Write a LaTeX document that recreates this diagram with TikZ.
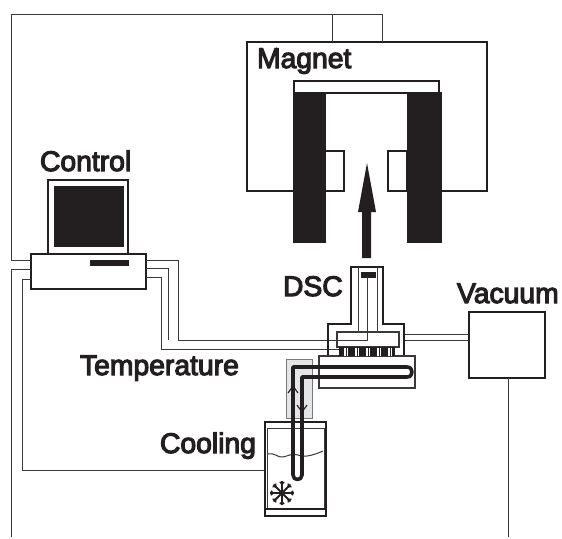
\documentclass[tikz,border=0pt]{standalone}
\usepackage{fontspec}
\usetikzlibrary{calc}
\newfontfamily\labfont{Liberation Sans}[FakeBold=4]
\definecolor{ink}{HTML}{231F20}
\definecolor{wire}{HTML}{3A3839}
\definecolor{shade}{HTML}{E4E5E7}
\definecolor{shadeedge}{HTML}{77787B}
\tikzset{
  box/.style={draw=ink,line width=2.4pt,fill=white,rectangle,inner sep=0,outer sep=0},
  solid box/.style={draw=ink,fill=ink,rectangle,inner sep=0,outer sep=0,line width=0pt},
  thin box/.style={draw=wire,line width=1.2pt,fill=white,rectangle,inner sep=0,outer sep=0},
  connector/.style={draw=wire,line width=1pt},
  heavy/.style={draw=ink,line width=2.4pt,line join=miter},
  tube/.style={draw=ink,line width=3.6pt},
  lab/.style={font=\labfont\fontsize{28.3}{30}\selectfont,text=ink,anchor=base west,inner sep=0,outer sep=0},
}
\begin{document}
\begin{tikzpicture}[x=1pt,y=-1pt]
\useasboundingbox (0,0) rectangle (562,538);
\fill[white] (0,0) rectangle (562,538);

% magnet
\draw[heavy] (294,191) -- (247,191) -- (247,42) -- (487,42) -- (487,191) -- (441,191);
\node[thin box,draw=ink,line width=1.6pt,minimum width=145pt,minimum height=12pt] (bar) at (366.5,87) {};
\node[box,line width=1.6pt,minimum width=19pt,minimum height=40pt] (poleL) at (334.5,171) {};
\node[box,line width=1.6pt,minimum width=19pt,minimum height=40pt] (poleR) at (397.5,171) {};
\node[solid box,minimum width=32pt,minimum height=150pt] (coilL) at (309,167) {};
\node[solid box,minimum width=34pt,minimum height=150pt] (coilR) at (424,167) {};
\coordinate (tip) at (367,163);
\fill[ink] (tip) -- (376,212) -- (371,212) -- (371,258) -- (362,258) -- (362,212) -- (358,212) -- cycle;

% control wires
\node[box,minimum width=115pt,minimum height=35pt] (pc) at (88.5,271.5) {};
\node[box,minimum width=80pt,minimum height=74pt] (mon) at (88,217) {};
\node[solid box,minimum width=69pt,minimum height=60pt] (screen) at (88.5,216) {};
\node[solid box,minimum width=38pt,minimum height=5pt] (slot) at (109,262.5) {};
\draw[connector] (pc.west |- 0,260) -- (11,260) -- (11,14) -- (382,14) -- (382,42);
\draw[connector] (332,14) -- (332,42);
\draw[connector] (pc.west |- 0,269) -- (11,269) -- (11,537);
\draw[connector] (pc.west |- 0,279) -- (22,279) -- (22,470) -- (265,470);
\draw[connector] (pc.east |- 0,260) -- (178,260) -- (178,340) -- (337,340);
\draw[connector] (pc.east |- 0,268) -- (168,268) -- (168,340);
\draw[connector] (pc.east |- 0,277) -- (161,277) -- (161,349) -- (339,349);

% vacuum
\node[box,minimum width=76pt,minimum height=66pt] (vac) at (507,345) {};
\draw[connector] (404,334) -- (vac.west |- 0,334);
\draw[connector] (404,340) -- (vac.west |- 0,340);
\draw[connector] (vac.south -| 508,0) -- (508,537);

% heater block
\node[thin box,minimum width=96pt,minimum height=32pt] (heat) at (367,372) {};
\node[draw=shadeedge,fill=shade,line width=1pt,rectangle,inner sep=0,minimum width=26pt,minimum height=59pt] (cold) at (299,388.5) {};

% DSC head
\draw[heavy] (328,355) -- (328,324) -- (351,324) -- (351,267) -- (383,267) -- (383,324) -- (404,324) -- (404,355);
\draw[connector] (358,267) -- (358,332);
\draw[connector] (377,267) -- (377,332);
\node[thin box,minimum width=62pt,minimum height=15pt] (block) at (368,339.5) {};
\node[solid box,minimum width=14pt,minimum height=5pt] (sample) at (368,274.5) {};
\draw[connector] (sample.south -| 367,0) -- (367,340) -- (block.west |- 0,340);
% sensor strip
\fill[ink] (339,347) rectangle (395,356);
\foreach \sx in {344,346.5,355,357.5,366,368.5,377,379.5,388,390.5}
  \fill[white] (\sx,348) rectangle (\sx+1.6,355.5);

% dewar
\node[box,minimum width=61pt,minimum height=94pt] (dewar) at (295.5,469) {};
\draw[draw=wire,line width=.8pt] (267,509) -- (267,428) -- (324,428) -- (324,509);
\draw[ink,line width=1.5pt] (266,509) -- (325,509);
\draw[draw=wire,line width=1pt] (268,454) .. controls (274,452) and (278,458) .. (283,457) .. controls (288,456) and (292,453) .. (298,455) .. controls (304,458) and (314,455) .. (323,451);

% tube
\draw[tube,line join=round] (302,377) -- (407,377) .. controls (413.7,377) and (413.7,367) .. (407,367) -- (293,367) -- (293,475) .. controls (293,481) and (302,481) .. (302,475) -- cycle;
\draw[draw=ink,line width=1.1pt] (288,393) -- (293,386) -- (298,393);
\draw[draw=ink,line width=1.1pt] (297,405) -- (302,412) -- (307,405);

% snowflake
\coordinate (ice) at (282,493);
\foreach \ang in {0,45,...,315}{
  \draw[ink,line width=2pt] (ice) -- ++(\ang:12);
  \draw[ink,line width=1.2pt] ($(ice)+(\ang:8.5)$) -- ++(\ang+40:3.5);
  \draw[ink,line width=1.2pt] ($(ice)+(\ang:8.5)$) -- ++(\ang-40:3.5);
}

% labels
\node[lab] (tmag) at (257,68) {Magnet};
\node[lab] (tctl) at (40,171) {Control};
\node[lab] (tdsc) at (283,296) {DSC};
\node[lab] (tvac) at (457,303) {Vacuum};
\node[lab] (ttmp) at (80,375) {Temperature};
\node[lab] (tcool) at (160,453) {Cooling};
\end{tikzpicture}
\end{document}
